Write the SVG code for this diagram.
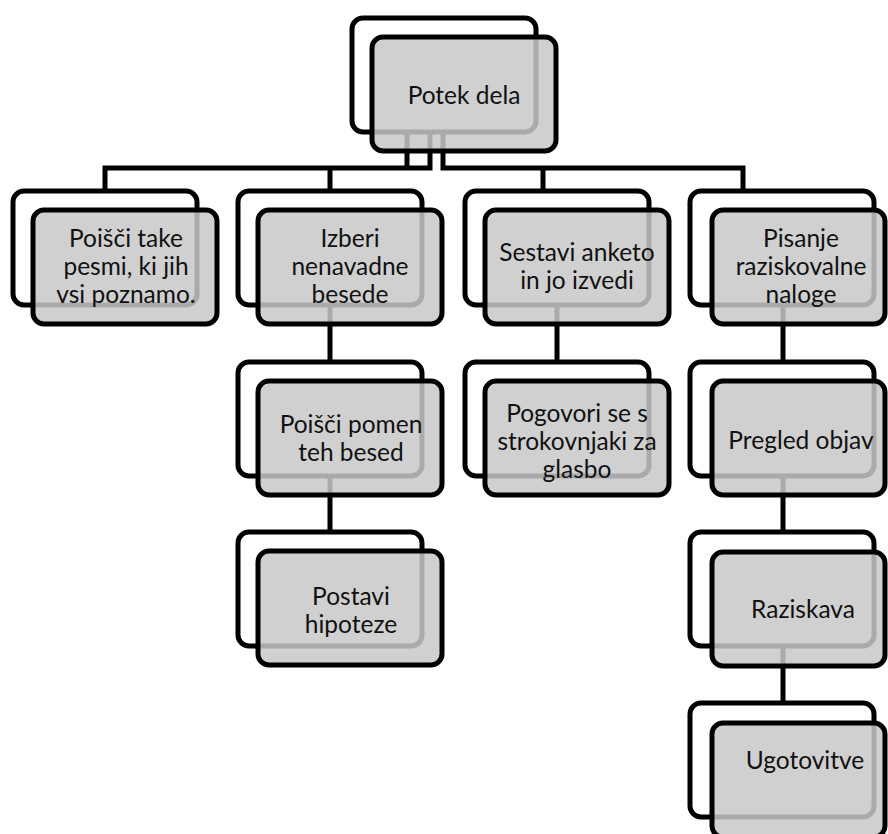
<svg xmlns="http://www.w3.org/2000/svg" width="888" height="834" viewBox="0 0 888 834">
<style>
.back{fill:#ffffff;stroke:#000;stroke-width:5}
.front{fill:#c8c8c8;fill-opacity:0.85;stroke:#000;stroke-width:5}
.conn{fill:none;stroke:#000;stroke-width:5}
text{font-family:Lato,"Liberation Sans",sans-serif;font-size:24.5px;fill:#111;text-anchor:middle}
</style>
<rect width="888" height="834" fill="#fff"/>
<g id="connectors" class="conn">
<path d="M407,133 V168"/>
<path d="M430,133 V168 H105 V191"/>
<path d="M330,168 V191"/>
<path d="M443,133 V168 H743 V191"/>
<path d="M543,168 V191"/>
<path d="M330,305 V362"/>
<path d="M330,476 V532"/>
<path d="M557,305 V362"/>
<path d="M783,305 V362"/>
<path d="M783,476 V532"/>
<path d="M783,646 V703"/>
</g>
<g id="root"><rect class="back" x="352" y="18" width="184" height="114" rx="11"/><rect class="front" x="372" y="37" width="184" height="114" rx="11"/><text x="464" y="104">Potek dela</text></g>
<g id="c1"><rect class="back" x="13" y="191" width="184" height="114" rx="11"/><rect class="front" x="33" y="210" width="184" height="114" rx="11"/><text x="126" y="247">Poišči take</text><text x="126" y="275">pesmi, ki jih</text><text x="126" y="303">vsi poznamo.</text></g>
<g id="c2"><rect class="back" x="238" y="191" width="184" height="114" rx="11"/><rect class="front" x="258" y="210" width="184" height="114" rx="11"/><text x="350" y="247">Izberi</text><text x="350" y="275">nenavadne</text><text x="350" y="303">besede</text></g>
<g id="c3"><rect class="back" x="465" y="191" width="184" height="114" rx="11"/><rect class="front" x="485" y="210" width="184" height="114" rx="11"/><text x="577" y="261">Sestavi anketo</text><text x="577" y="289">in jo izvedi</text></g>
<g id="c4"><rect class="back" x="690" y="191" width="184" height="114" rx="11"/><rect class="front" x="712" y="210" width="173" height="114" rx="11"/><text x="801" y="247">Pisanje</text><text x="801" y="275">raziskovalne</text><text x="801" y="303">naloge</text></g>
<g id="g2a"><rect class="back" x="238" y="362" width="184" height="114" rx="11"/><rect class="front" x="258" y="381" width="184" height="114" rx="11"/><text x="351" y="433">Poišči pomen</text><text x="351" y="461">teh besed</text></g>
<g id="g2b"><rect class="back" x="238" y="532" width="184" height="114" rx="11"/><rect class="front" x="258" y="551" width="184" height="114" rx="11"/><text x="351" y="605">Postavi</text><text x="351" y="633">hipoteze</text></g>
<g id="g3"><rect class="back" x="465" y="362" width="184" height="114" rx="11"/><rect class="front" x="485" y="381" width="184" height="114" rx="11"/><text x="577" y="422">Pogovori se s</text><text x="577" y="450">strokovnjaki za</text><text x="577" y="478">glasbo</text></g>
<g id="g4a"><rect class="back" x="690" y="362" width="184" height="114" rx="11"/><rect class="front" x="712" y="381" width="173" height="114" rx="11"/><text x="801" y="449">Pregled objav</text></g>
<g id="g4b"><rect class="back" x="690" y="532" width="184" height="114" rx="11"/><rect class="front" x="712" y="552" width="173" height="114" rx="11"/><text x="803" y="618">Raziskava</text></g>
<g id="g4c"><rect class="back" x="690" y="703" width="184" height="114" rx="11"/><rect class="front" x="712" y="723" width="173" height="114" rx="11"/><text x="805" y="769">Ugotovitve</text></g>
</svg>
